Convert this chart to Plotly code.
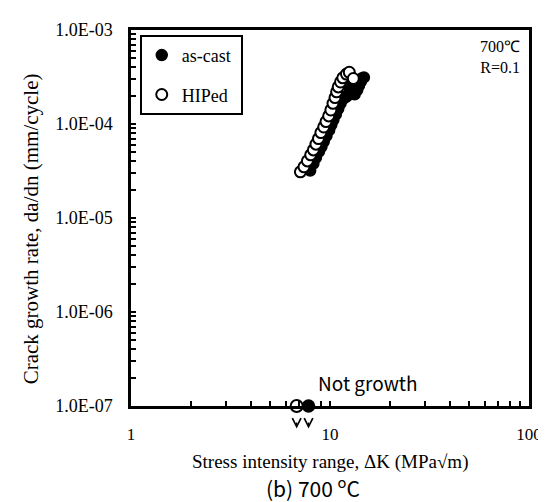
import numpy as np
import plotly.graph_objects as go

# ---- data ----
hiped_dk = [7.1, 7.4, 7.7, 8.0, 8.25, 8.5, 8.75, 9.0, 9.3, 9.55, 9.85, 10.1, 10.35,
            10.6, 10.8, 11.0, 11.3, 11.6, 12.1, 12.5, 13.1]
hiped_rate = [3.1e-5, 3.5e-5, 4.05e-5, 4.7e-5, 5.3e-5, 6.1e-5, 7.0e-5, 8.1e-5,
              9.3e-5, 1.06e-4, 1.22e-4, 1.41e-4, 1.66e-4, 1.91e-4, 2.2e-4,
              2.48e-4, 2.8e-4, 3.1e-4, 3.4e-4, 3.55e-4, 3.05e-4]

ascast_dk = [7.95, 8.25, 8.5, 8.8, 9.05, 9.3, 9.6, 9.9, 10.15, 10.4, 10.7, 11.0,
             11.3, 11.6, 12.0, 12.3, 12.5, 12.6, 12.7, 13.3, 13.7, 14.0, 14.3, 14.8, 14.4]
ascast_rate = [3.2e-5, 3.8e-5, 4.4e-5, 5.1e-5, 5.7e-5, 6.5e-5, 7.5e-5, 8.6e-5,
               9.8e-5, 1.11e-4, 1.27e-4, 1.45e-4, 1.66e-4, 1.84e-4, 1.93e-4,
               2.02e-4, 2.16e-4, 2.4e-4, 2.62e-4, 2.07e-4, 2.3e-4, 2.58e-4, 2.85e-4,
               3.13e-4, 3.04e-4]

nogrowth_dk = [6.8, 7.8]          # HIPed, as-cast
nogrowth_rate = [1e-7, 1e-7]

y_tickvals = [1e-7, 1e-6, 1e-5, 1e-4, 1e-3]
y_ticktext = ["1.0E-07", "1.0E-06", "1.0E-05", "1.0E-04", "1.0E-03"]
x_tickvals = [1, 10, 100]
x_ticktext = ["1", "10", "100"]

SERIF = "Liberation Serif"
SANS = "Noto Sans CJK JP"

fig = go.Figure()

fig.add_trace(go.Scatter(
    x=ascast_dk, y=ascast_rate, mode="markers", name="as-cast\u00a0",
    legendgroup="a",
    marker=dict(symbol="circle", size=11, color="black",
                line=dict(color="black", width=1.5))))
fig.add_trace(go.Scatter(
    x=hiped_dk, y=hiped_rate, mode="markers", name="HIPed\u00a0",
    legendgroup="b",
    marker=dict(symbol="circle", size=11, color="white",
                line=dict(color="black", width=2))))
fig.add_trace(go.Scatter(
    x=[nogrowth_dk[1]], y=[nogrowth_rate[1]], mode="markers", showlegend=False,
    cliponaxis=False,
    marker=dict(symbol="circle", size=12, color="black",
                line=dict(color="black", width=1.5))))
fig.add_trace(go.Scatter(
    x=[nogrowth_dk[0]], y=[nogrowth_rate[0]], mode="markers", showlegend=False,
    cliponaxis=False,
    marker=dict(symbol="circle", size=12, color="white",
                line=dict(color="black", width=2))))

minor_x = [v * d for d in (1, 10) for v in range(2, 10)]
minor_y = [v * 10.0 ** e for e in range(-7, -3) for v in range(2, 10)]

fig.update_xaxes(
    type="log", range=[0, 2], showgrid=False, zeroline=False,
    showline=True, linecolor="black", linewidth=2.5, mirror=True,
    ticks="inside", ticklen=5, tickwidth=1.5, tickcolor="black",
    tickmode="array", tickvals=x_tickvals, ticktext=x_ticktext,
    ticklabelstandoff=11,
    tickfont=dict(family=SERIF, size=17, color="black"),
    minor=dict(ticks="inside", ticklen=5, tickwidth=1.5, tickcolor="black",
               tickmode="array", tickvals=minor_x, showgrid=False),
)
fig.update_yaxes(
    type="log", range=[-7, -3], showgrid=False, zeroline=False,
    showline=True, linecolor="black", linewidth=2.5, mirror=True,
    ticks="inside", ticklen=5, tickwidth=1.5, tickcolor="black",
    tickmode="array", tickvals=y_tickvals, ticktext=y_ticktext,
    ticklabelstandoff=12,
    tickfont=dict(family=SERIF, size=18, color="black"),
    minor=dict(ticks="inside", ticklen=5, tickwidth=1.5, tickcolor="black",
               tickmode="array", tickvals=minor_y, showgrid=False),
)

annotations = [
    dict(text="Crack growth rate, da/dn (mm/cycle)", xref="paper", yref="paper",
         x=0, y=0.47, xshift=-100, xanchor="center", yanchor="middle",
         textangle=-90, showarrow=False,
         font=dict(family=SERIF, size=21, color="black")),
    dict(text="Stress intensity range, \u0394K (MPa\u221am)", xref="paper", yref="paper",
         x=0.5, y=0, yshift=-56, xanchor="center", yanchor="middle", showarrow=False,
         font=dict(family=SERIF, size=19, color="black")),
    dict(text="(b) 700 <sup>o</sup>C", xref="paper", yref="paper",
         x=0.457, y=0, yshift=-81, xanchor="center", yanchor="middle", showarrow=False,
         font=dict(family=SANS, size=21, color="black")),
    dict(text="Not growth", xref="paper", yref="paper",
         x=0.596, y=0, yshift=24, xanchor="center", yanchor="middle", showarrow=False,
         font=dict(family=SANS, size=19, color="black")),
    dict(text="700\u2103<br>R=0.1", xref="paper", yref="paper",
         x=0.983, y=0.985, xanchor="right", yanchor="top", align="right",
         showarrow=False, font=dict(family=SERIF, size=16, color="black")),
]
for dk in nogrowth_dk:
    annotations.append(dict(
        x=np.log10(dk), xref="x", y=-0.06, yref="paper",
        ax=0, ay=-16, axref="pixel", ayref="pixel",
        showarrow=True, arrowhead=5, arrowsize=1.3, arrowwidth=1.3,
        arrowcolor="black", text=" "))

fig.update_layout(
    width=546, height=502,
    margin=dict(l=123, r=22, t=17, b=104),
    paper_bgcolor="white", plot_bgcolor="white",
    showlegend=True,
    legend=dict(x=0.022, y=0.987, xanchor="left", yanchor="top",
                bgcolor="white", bordercolor="black", borderwidth=2,
                font=dict(family=SERIF, size=18, color="black"),
                tracegroupgap=13, itemwidth=30),
    annotations=annotations,
)

fig.write_html("out.html")
